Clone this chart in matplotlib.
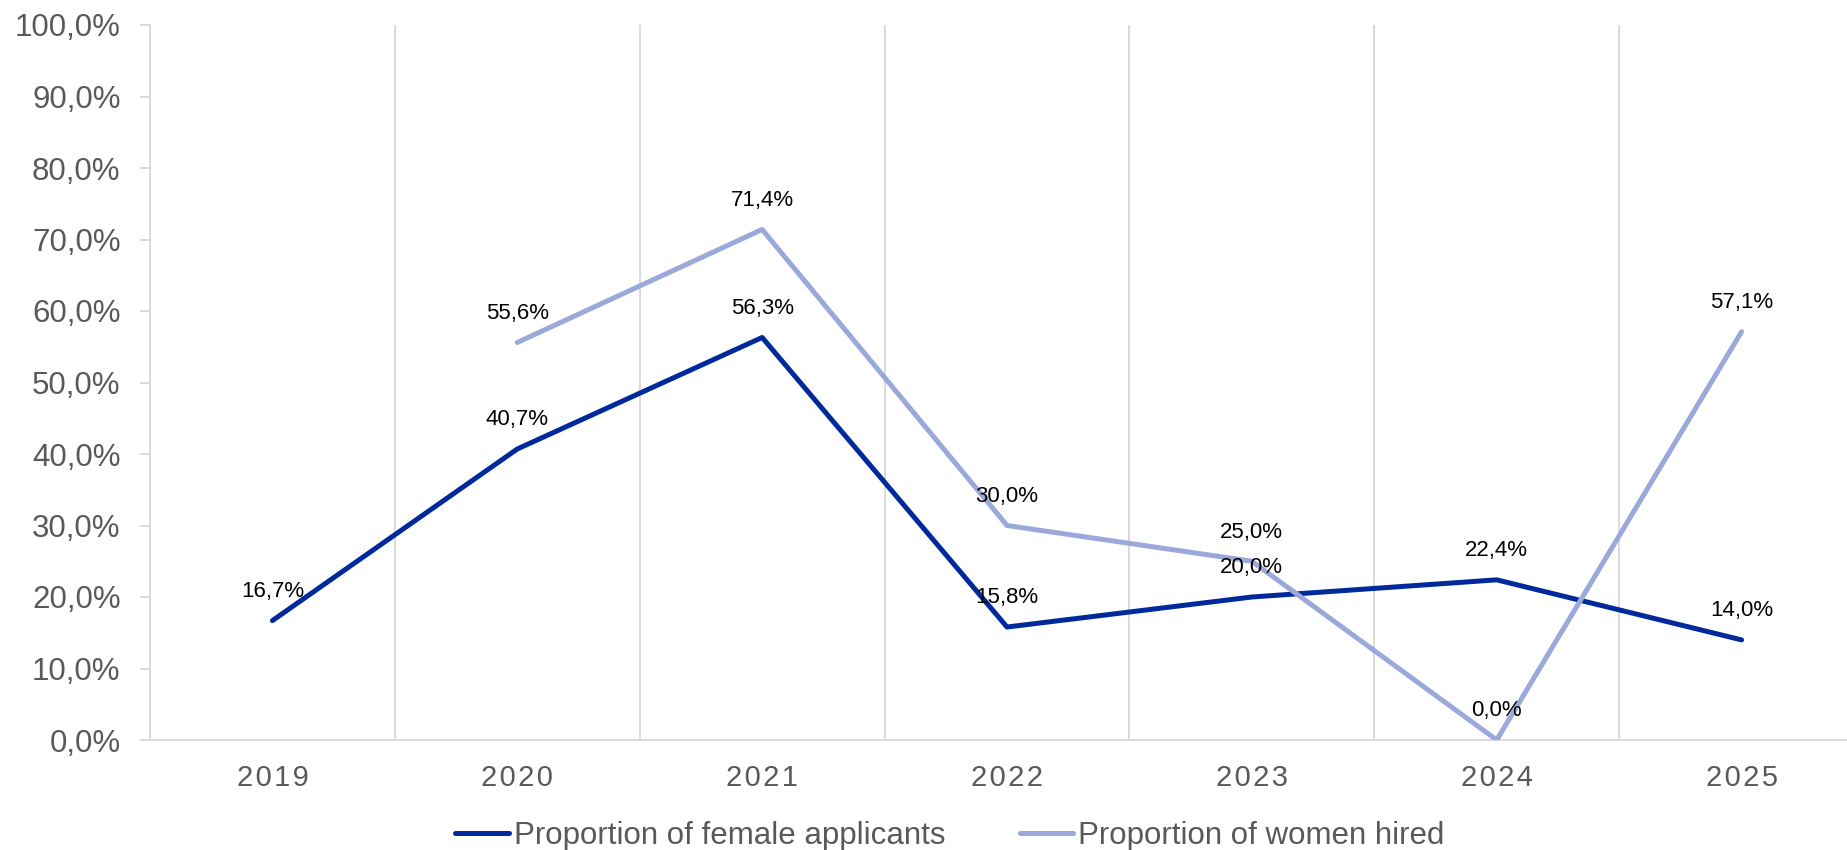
import numpy as np
import matplotlib
matplotlib.use("Agg")
import matplotlib.pyplot as plt

years = ["2019", "2020", "2021", "2022", "2023", "2024", "2025"]
female_applicants = [16.7, 40.7, 56.3, 15.8, 20.0, 22.4, 14.0]
women_hired = [np.nan, 55.6, 71.4, 30.0, 25.0, 0.0, 57.1]

dark = "#00299b"
light = "#9aa9da"
grid = "#d9d9d9"
tick_col = "#595959"

plt.rcParams["font.family"] = ["Liberation Sans", "DejaVu Sans"]

fig = plt.figure(figsize=(18.47, 8.5), dpi=100)
ax = fig.add_axes([150 / 1847, 110 / 850, (1864 - 150) / 1847, 715 / 850])

x = np.arange(len(years))
ax.plot(x, female_applicants, color=dark, lw=3.6, solid_capstyle="round",
        label="Proportion of female applicants", zorder=3)
ax.plot(x, women_hired, color=light, lw=3.6, solid_capstyle="round",
        label="Proportion of women hired", zorder=3)

for series in (female_applicants, women_hired):
    for xi, v in zip(x, series):
        if np.isnan(v):
            continue
        ax.annotate(f"{v:.1f}%".replace(".", ","), (xi, v), xytext=(0, 21),
                    textcoords="offset points", ha="center", va="center",
                    fontsize=16, color="black", zorder=4)

ax.set_xlim(-0.5, len(years) - 0.5)
ax.set_ylim(0, 100)
ax.set_yticks(np.arange(0, 101, 10))
ax.set_yticklabels([f"{v:.1f}%".replace(".", ",") for v in np.arange(0, 101, 10)])
ax.set_xticks(x)
# letter-spaced year labels
ax.set_xticklabels(["\u200a".join(y) for y in years])
ax.set_xticks(x[:-1] + 0.5, minor=True)
ax.grid(which="minor", axis="x", color=grid, lw=1.4)
ax.tick_params(axis="y", colors=grid, length=7.2, width=1.4, pad=14,
               labelcolor=tick_col, labelsize=22.5)
ax.tick_params(axis="x", which="both", length=0, pad=17.5, labelcolor=tick_col, labelsize=21)

for s in ["top", "right"]:
    ax.spines[s].set_visible(False)
for s in ["left", "bottom"]:
    ax.spines[s].set_color(grid)
    ax.spines[s].set_linewidth(1.4)

fig.legend(loc="center", bbox_to_anchor=(950 / 1847, 1 - 836 / 850), ncol=2,
           frameon=False, fontsize=22.5, handlelength=1.7, handletextpad=0.16,
           columnspacing=2.4, labelcolor=tick_col)

fig.savefig("out.png", dpi=100)
